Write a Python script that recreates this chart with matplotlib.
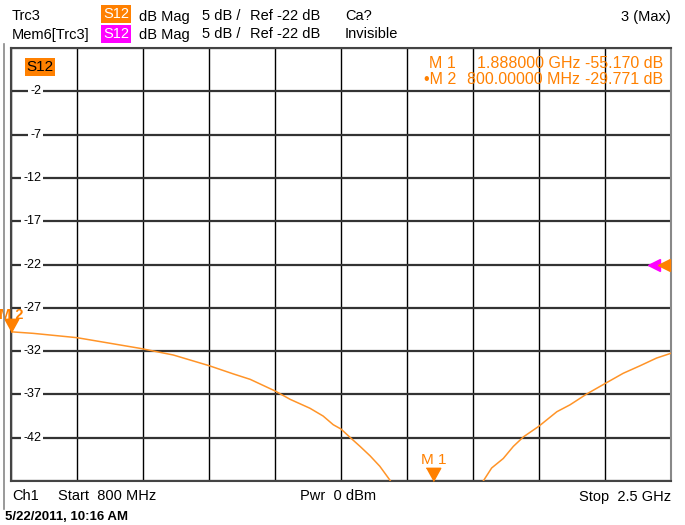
import matplotlib
matplotlib.use('Agg')
import matplotlib.pyplot as plt
import matplotlib.transforms as mtransforms
from matplotlib.lines import Line2D

plt.rcParams['font.family'] = ['Liberation Sans', 'DejaVu Sans']

# trace data (MHz, dB)
freq_mhz = [800, 857, 970, 1132, 1218, 1310, 1373, 1416, 1480, 1519, 1570, 1604,
            1630, 1650, 1673, 1699, 1725, 1750, 1776, 1830, 1888, 1950,
            2015, 2038, 2068, 2094, 2120, 2159, 2206, 2240, 2283, 2328, 2377,
            2420, 2463, 2500]
s12_db = [-29.77, -29.95, -30.45, -31.68, -32.45, -33.68, -34.64, -35.26, -36.6,
          -37.57, -38.6, -39.5, -40.5, -41.0, -41.95, -43.0, -44.1, -45.3, -46.9,
          -51.5, -55.17, -52.0,
          -47.1, -45.5, -44.4, -43.0, -41.9, -40.7, -39.0, -38.2, -36.95, -35.8,
          -34.56, -33.7, -32.8, -32.25]

start_mhz, stop_mhz = 800, 2500
ref_db, scale_db = -22, 5
y_labels = [-2, -7, -12, -17, -22, -27, -32, -37, -42]

m1_freq, m1_val = 1888, -55.170
m2_freq, m2_val = 800, -29.771

orange = '#FF8000'
trace_col = '#FF9428'
magenta = '#FF00FF'

W, H = 685, 525
fig = plt.figure(figsize=(W / 100, H / 100), dpi=100)
ax = fig.add_axes([11 / W, 44 / H, 660 / W, 433 / H])

ymin = ref_db - 5 * scale_db
ymax = ref_db + 5 * scale_db
ax.set_xlim(start_mhz, stop_mhz)
ax.set_ylim(ymin, ymax)
step = (stop_mhz - start_mhz) / 10
ax.set_xticks([start_mhz + step * k for k in range(11)])
ax.set_yticks([ymin + scale_db * k for k in range(11)])
ax.tick_params(length=0, labelbottom=False, labelleft=False)
ax.grid(axis='x', color='black', lw=1.0)
ax.grid(axis='y', color='#333333', lw=1.6)
for s in ax.spines.values():
    s.set_color('#444444')
    s.set_linewidth(1.5)
ax.spines['right'].set_color('#888888')

ax.plot(freq_mhz, s12_db, color=trace_col, lw=1.1, zorder=3)

# y labels sitting on the grid lines
blend = mtransforms.blended_transform_factory(ax.transAxes, ax.transData)
for v in y_labels:
    ax.text(0.0455, v, str(v), transform=blend, ha='right', va='center',
            fontsize=9, zorder=4,
            bbox=dict(boxstyle='square,pad=0.15', fc='white', ec='none'))

ax.text(0.044, 0.956, 'S12', transform=ax.transAxes, ha='center', va='center',
        fontsize=11, color='black',
        bbox=dict(boxstyle='square,pad=0.12', fc=orange, ec='none'))

# marker triangles, tip on the point
tri = [(-0.55, 1.0), (0.55, 1.0), (0, 0)]
ax.plot([m2_freq], [m2_val], marker=tri, ms=19, color=orange, ls='none',
        clip_on=False, zorder=5)
ax.text(m2_freq, m2_val + 1.9, 'M 2', ha='center', va='center', fontsize=10.5,
        fontweight='bold', color=orange, zorder=6, clip_on=False)
ax.plot([m1_freq], [max(m1_val, ymin)], marker=tri, ms=19, color=orange,
        ls='none', clip_on=False, zorder=5)
ax.text(m1_freq, ymin + 2.4, 'M 1', ha='center', va='center', fontsize=11,
        color=orange, zorder=6)

# reference level arrows on the right edge
ax.plot([0.974], [ref_db], marker='<', ms=9, color=magenta, transform=blend,
        clip_on=False, zorder=5)
ax.plot([0.9895], [ref_db], marker='<', ms=9, color=orange, transform=blend,
        clip_on=False, zorder=5)


def px(x, y):
    return x / W, 1 - y / H


hdr = 10.5
fig.text(*px(12, 16.5), 'Trc3', fontsize=hdr, va='center')
fig.text(*px(12, 34.5), 'Mem6[Trc3]', fontsize=hdr, va='center')
fig.text(*px(116, 14), 'S12', fontsize=hdr, va='center', ha='center',
         color='white', bbox=dict(boxstyle='square,pad=0.12', fc=orange, ec='none'))
fig.text(*px(116, 34), 'S12', fontsize=hdr, va='center', ha='center',
         color='white', bbox=dict(boxstyle='square,pad=0.12', fc=magenta, ec='none'))
for yy in (16.5, 34.5):
    fig.text(*px(139, yy), 'dB Mag', fontsize=hdr, va='center')
    fig.text(*px(202, yy), '5 dB /', fontsize=hdr, va='center')
    fig.text(*px(250, yy), 'Ref -22 dB', fontsize=hdr, va='center')
fig.text(*px(345, 16.5), 'Ca?', fontsize=hdr, va='center')
fig.text(*px(345, 34.5), 'Invisible', fontsize=hdr, va='center')
fig.text(*px(671, 16.5), '3 (Max)', fontsize=hdr, va='center', ha='right')

# marker readout
mk = 11.5
fig.text(*px(456, 63), 'M 1', fontsize=mk, color=orange, va='center', ha='right')
fig.text(*px(456, 80), '\u2022M 2', fontsize=mk, color=orange, va='center', ha='right')
fig.text(*px(580, 63), '%.6f GHz' % (m1_freq / 1000), fontsize=mk, color=orange,
         va='center', ha='right')
fig.text(*px(580, 80), '%.5f MHz' % m2_freq, fontsize=mk, color=orange,
         va='center', ha='right')
fig.text(*px(663, 63), '%.3f dB' % m1_val, fontsize=mk, color=orange,
         va='center', ha='right')
fig.text(*px(663, 80), '%.3f dB' % m2_val, fontsize=mk, color=orange,
         va='center', ha='right')

# footer
fig.text(*px(12, 496.5), 'Ch1', fontsize=hdr, va='center')
fig.text(*px(58, 496.5), 'Start  800 MHz', fontsize=hdr, va='center')
fig.text(*px(300, 496.5), 'Pwr  0 dBm', fontsize=hdr, va='center')
fig.text(*px(671, 496.5), 'Stop  2.5 GHz', fontsize=hdr, va='center', ha='right')
fig.text(*px(5, 517), '5/22/2011, 10:16 AM', fontsize=9.5, fontweight='bold',
         va='center')

# outer frame line on the left
fig.add_artist(Line2D([4 / W, 4 / W], [1 - 44 / H, 1 - 509 / H], color='#888888',
                      lw=1.2, transform=fig.transFigure))

fig.savefig('out.png', dpi=100)
